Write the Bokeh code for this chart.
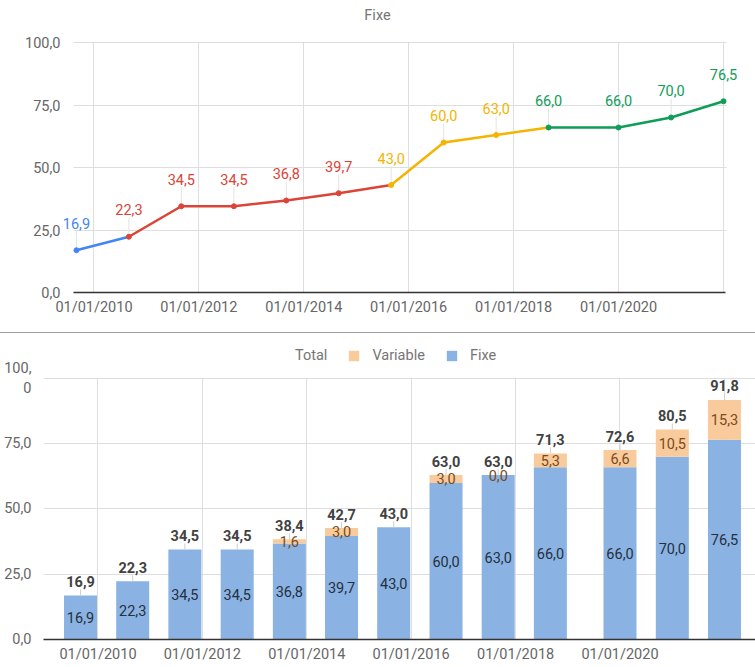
import math
import pandas as pd
from bokeh.plotting import figure
from bokeh.models import (ColumnDataSource, Range1d, FixedTicker, Legend, LegendItem,
                          Div, Label, BoxAnnotation)
from bokeh.layouts import column
from bokeh.embed import file_html
from bokeh.resources import INLINE
from bokeh.core.properties import value

# ---------------- data ----------------
dates = ["2009-09-01", "2010-09-01", "2011-09-01", "2012-09-01", "2013-09-01",
         "2014-09-01", "2015-09-01", "2016-09-01", "2017-09-01", "2018-09-01",
         "2020-01-01", "2021-01-01", "2022-01-01"]
fixe = [16.9, 22.3, 34.5, 34.5, 36.8, 39.7, 43.0, 60.0, 63.0, 66.0, 66.0, 70.0, 76.5]
variable = [None, None, None, None, 1.6, 3.0, None, 3.0, 0.0, 5.3, 6.6, 10.5, 15.3]
x_tick_dates = ["2010-01-01", "2012-01-01", "2014-01-01", "2016-01-01",
                "2018-01-01", "2020-01-01", "2022-01-01"]
x_tick_labels = ["01/01/2010", "01/01/2012", "01/01/2014", "01/01/2016",
                 "01/01/2018", "01/01/2020", ""]
y_ticks = [0, 25, 50, 75, 100]
y_tick_labels = ["0,0", "25,0", "50,0", "75,0", "100,0"]
y_tick_labels_bottom = ["0,0", "25,0", "50,0", "75,0", "100,\n0"]
series_names = ["Total", "Variable", "Fixe"]
top_title = "Fixe"

# ---------------- styles ----------------
BLUE, RED, YELLOW, GREEN = "#4285f4", "#db4437", "#f4b400", "#0f9d58"
point_colors = [BLUE] + [RED] * 5 + [YELLOW] * 3 + [GREEN] * 4
BAR_BLUE, BAR_PEACH = "#8ab3e3", "#f9cb9c"
FONT = "Roboto"
FS = "14.5px"
TICK_COLOR = "#666666"
GRID = "#dedede"
T = pd.Timestamp


def fmt(v):
    return f"{v:.1f}".replace(".", ",")


xs = pd.to_datetime(dates)
tick_ms = [int(T(d).value // 10**6) for d in x_tick_dates]
x_over = dict(zip(tick_ms, x_tick_labels))


def style_axes(p, y_labels, y_standoff):
    p.outline_line_color = None
    p.xaxis.ticker = FixedTicker(ticks=tick_ms)
    p.xaxis.major_label_overrides = x_over
    p.xaxis.axis_line_color = "#333333"
    p.xaxis.axis_line_width = 1.5
    p.xaxis.major_tick_line_color = None
    p.xaxis.minor_tick_line_color = None
    p.xaxis.major_label_standoff = 0
    p.yaxis.ticker = FixedTicker(ticks=y_ticks)
    p.yaxis.major_label_overrides = dict(zip(y_ticks, y_labels))
    p.yaxis.axis_line_color = None
    p.yaxis.major_tick_line_color = None
    p.yaxis.minor_tick_line_color = None
    p.yaxis.major_label_standoff = y_standoff
    for ax in (p.xaxis, p.yaxis):
        ax.major_label_text_font = FONT
        ax.major_label_text_font_size = FS
        ax.major_label_text_color = TICK_COLOR
    p.xgrid.ticker = FixedTicker(ticks=tick_ms)
    p.ygrid.ticker = FixedTicker(ticks=y_ticks)
    p.grid.grid_line_color = GRID
    p.grid.grid_line_width = 1


def mask(p, **kw):
    p.add_layout(BoxAnnotation(fill_color="white", fill_alpha=1, line_color=None,
                               level="underlay", **kw))


# ---------------- top chart ----------------
p1 = figure(width=755, height=332, x_axis_type="datetime",
            x_range=Range1d(T("2009-04-29"), T("2022-06-03")),
            y_range=Range1d(0, 116.8),
            output_backend="svg", toolbar_location=None,
            min_border_left=58, min_border_right=10,
            min_border_top=0, min_border_bottom=40)
p1.frame_align = False
style_axes(p1, y_tick_labels, -8)
p1.xaxis.bounds = (T("2009-08-11"), T("2022-01-15"))
# keep the grid inside the chart area 0..100 / first..last date
mask(p1, bottom=100.3)
mask(p1, right=T("2009-08-11"))
mask(p1, left=T("2022-01-22"))

p1.add_layout(Label(x=319, y=277, x_units="screen", y_units="screen", text=top_title,
                    text_align="center", text_baseline="middle",
                    text_font=FONT, text_font_size=FS, text_color="#757575"))

src1 = ColumnDataSource(dict(x=xs, y=fixe, color=point_colors,
                             label=[fmt(v) for v in fixe]))
p1.ray(x="x", y="y", length=19, angle=math.pi / 2, length_units="screen",
       line_color="#e3e3e3", line_width=1, source=src1)
p1.segment(x0=xs[:-1], y0=fixe[:-1], x1=xs[1:], y1=fixe[1:],
           line_color=point_colors[:-1], line_width=2.5, line_cap="round")
p1.scatter(x="x", y="y", size=5, color="color", source=src1)
p1.text(x="x", y="y", text="label", source=src1, y_offset=-27,
        text_align="center", text_baseline="middle", text_color="color",
        text_font=value(FONT), text_font_size=value(FS))

# ---------------- bottom chart ----------------
var0 = [v if v is not None else 0.0 for v in variable]
total = [f + v for f, v in zip(fixe, var0)]
bar_width = 231 * 24 * 3600 * 1000

p2 = figure(width=755, height=333, x_axis_type="datetime",
            x_range=Range1d(T("2008-12-16"), T("2022-08-06")),
            y_range=Range1d(0, 117.24),
            output_backend="svg", toolbar_location=None,
            min_border_left=43, min_border_right=0,
            min_border_top=0, min_border_bottom=27)
p2.frame_align = False
style_axes(p2, y_tick_labels_bottom, 6)
mask(p2, bottom=100.3)

src2 = ColumnDataSource(dict(x=xs, fixe=fixe, var0=var0, total=total,
                             fixe_mid=[f / 2 for f in fixe],
                             fixe_lbl=[fmt(f) for f in fixe],
                             total_lbl=[fmt(t) for t in total]))
bars = p2.vbar_stack(["fixe", "var0"], x="x", width=bar_width,
                     color=[BAR_BLUE, BAR_PEACH], line_color=None, source=src2)
tot_r = p2.line(x="x", y="total", line_alpha=0, source=src2)

vi = [i for i, v in enumerate(variable) if v is not None]
src_var = ColumnDataSource(dict(x=xs[vi], y=[fixe[i] + variable[i] / 2 for i in vi],
                                lbl=[fmt(variable[i]) for i in vi]))

p2.text(x="x", y="fixe_mid", text="fixe_lbl", source=src2,
        text_align="center", text_baseline="middle", text_color="#25303f",
        text_font=value(FONT), text_font_size=value(FS))
p2.text(x="x", y="y", text="lbl", source=src_var,
        text_align="center", text_baseline="middle", text_color="#7a4b20",
        text_font=value(FONT), text_font_size=value(FS))
p2.ray(x="x", y="total", length=6, angle=math.pi / 2, length_units="screen",
       line_color="#cfcfcf", line_width=1, source=src2)
p2.text(x="x", y="total", text="total_lbl", source=src2, y_offset=-14,
        text_align="center", text_baseline="middle", text_color="#424242",
        text_font_style="bold",
        text_font=value(FONT), text_font_size=value(FS))

legend = Legend(items=[LegendItem(label=series_names[0], renderers=[tot_r]),
                       LegendItem(label=series_names[1], renderers=[bars[1]]),
                       LegendItem(label=series_names[2], renderers=[bars[0]])],
                orientation="horizontal", location=(227, 275),
                glyph_width=13, glyph_height=13, label_standoff=12, spacing=20,
                padding=0, margin=0, border_line_color=None,
                background_fill_alpha=0,
                label_text_font=FONT, label_text_font_size=FS,
                label_text_color="#757575")
p2.add_layout(legend, "center")

sep = Div(width=755, height=1, margin=0, styles={"background-color": "#9e9e9e"})

layout = column(p1, sep, p2, spacing=0)
open("out.html", "w").write(file_html(layout, INLINE))
